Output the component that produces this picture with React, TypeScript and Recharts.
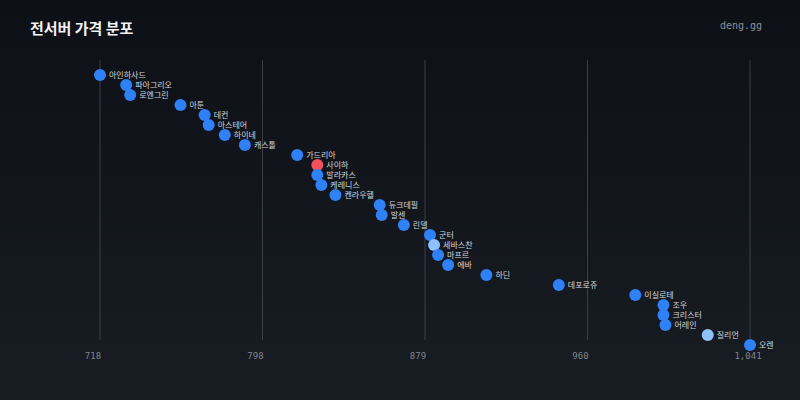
import { ScatterChart, Scatter, XAxis, YAxis, CartesianGrid } from 'recharts'

const servers = [
  '아인하사드', '파아그리오', '로엔그린', '아툰', '데컨', '아스테어', '하이네', '캐스톨',
  '가드리아', '사이하', '발라카스', '케레니스', '켄라우헬', '듀크데필', '발센', '린델',
  '군터', '세바스찬', '마프르', '에바', '하딘', '데포로쥬', '이실로테', '조우',
  '크리스터', '어레인', '질리언', '오렌',
]
const prices = [
  718, 731, 733, 758, 770, 772, 780, 790,
  816, 826, 826, 828, 835, 857, 858, 869,
  882, 884, 886, 891, 910, 946, 984, 998,
  998, 999, 1020, 1041,
]
const mainServers = ['사이하']
const watchServers = ['세바스찬', '질리언']
const xTicks = [718, 798.75, 879.5, 960.25, 1041]

const data = servers.map((name, i) => ({ name, price: prices[i], rank: i }))

function colorOf(name: string) {
  if (mainServers.includes(name)) return '#f2525e'
  if (watchServers.includes(name)) return '#8dc2ff'
  return '#2f81f7'
}

function Dot(props: any) {
  const { cx, cy, payload } = props
  return (
    <g>
      <circle cx={cx} cy={cy} r={6} fill={colorOf(payload.name)} />
      <text x={cx + 9} y={cy} dy="0.35em" fontSize={8} fill="#d3d7dd" fontFamily="'Noto Sans CJK KR', sans-serif">
        {payload.name}
      </text>
    </g>
  )
}

function Tick(props: any) {
  const { x, y, payload, index } = props
  const last = index === xTicks.length - 1
  return (
    <text x={x + (last ? -2 : -7)} y={y} dy="0.71em" textAnchor="middle" fontSize={9} fill="#7f858e" fontFamily="'DejaVu Sans Mono', monospace">
      {Math.floor(payload.value).toLocaleString('en-US')}
    </text>
  )
}

function GridLine(props: any) {
  const { x1, y1, x2, y2 } = props
  return <line x1={x1} y1={y1} x2={x2} y2={y2 - 10} stroke="#3a3f48" strokeWidth={1} />
}

export default function App() {
  return (
    <div
      style={{
        position: 'fixed', left: 0, top: 0, width: 800, height: 400,
        background: 'linear-gradient(180deg, #0d1016 0%, #181c23 100%)',
        fontFamily: "'Noto Sans CJK KR', sans-serif",
      }}
    >
      <div style={{ position: 'absolute', left: 30, top: 17, fontSize: 15, fontWeight: 700, color: '#f1f3f5' }}>
        전서버 가격 분포
      </div>
      <div style={{ position: 'absolute', left: 720, top: 20, fontSize: 10, color: '#8b9099', fontFamily: "'DejaVu Sans Mono', monospace" }}>
        deng.gg
      </div>
      <ScatterChart width={800} height={400} margin={{ top: 60, right: 50, bottom: 20, left: 100 }}>
        <CartesianGrid horizontal={false} vertical={GridLine} />
        <XAxis
          type="number"
          dataKey="price"
          domain={[718, 1041]}
          ticks={xTicks}
          height={30}
          axisLine={false}
          tickLine={false}
          tickSize={0}
          tickMargin={3}
          tick={Tick}
          interval={0}
        />
        <YAxis type="number" dataKey="rank" domain={[-1.5, 27.5]} reversed hide width={0} />
        <Scatter data={data} shape={Dot} isAnimationActive={false} />
      </ScatterChart>
    </div>
  )
}
